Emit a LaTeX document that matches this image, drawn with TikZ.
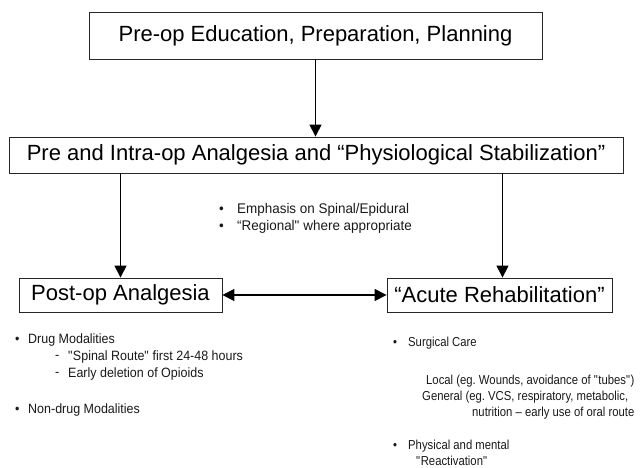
\documentclass[tikz,border=0pt]{standalone}
\usepackage{fontspec}
\setmainfont{Liberation Sans}
\newfontfamily\midfont{Liberation Sans}[FakeStretch=0.96]
\newfontfamily\leftfont{Liberation Sans}[FakeStretch=0.925]
\newfontfamily\rightfont{Liberation Sans}[FakeStretch=0.87]
\usetikzlibrary{arrows.meta}
\begin{document}
\frenchspacing
\begin{tikzpicture}[x=1pt,y=-1pt,
  bigbox/.style={draw=black!85,line width=0.9pt,inner sep=0pt,font=\fontsize{22}{26}\selectfont},
  conn/.style={line width=1.5pt,-{Triangle[width=12pt,length=12pt]}},
  small/.style={anchor=west,inner sep=0pt,text=black!90},
  midtxt/.style={small,font=\midfont\fontsize{14}{16}\selectfont},
  lefttxt/.style={small,font=\leftfont\fontsize{13.5}{16}\selectfont},
  righttxt/.style={small,font=\rightfont\fontsize{13}{15}\selectfont}]
\useasboundingbox (0,0) rectangle (640,468);
\node[bigbox,minimum width=453pt,minimum height=47pt] (top) at (315.5,35.5) {Pre-op Education, Preparation, Planning};
\node[bigbox,minimum width=614pt,minimum height=36pt] (mid) at (316,155) {Pre and Intra-op Analgesia and “Physiological Stabilization”};
\node[bigbox,minimum width=203pt,minimum height=34pt] (post) at (120.5,295) {Post-op Analgesia};
\node[bigbox,minimum width=225pt,minimum height=34pt] (acute) at (499.5,295) {“Acute Rehabilitation”};
\draw[conn] (top.south) -- (top.south |- mid.north);
\draw[conn] (post.north |- mid.south) -- (post.north);
\draw[conn] ([xshift=3pt]acute.north |- mid.south) -- ([xshift=3pt]acute.north);
\draw[conn,{Triangle[width=12pt,length=12pt]}-{Triangle[width=12pt,length=12pt]}] (post.east) -- (acute.west);
% middle bullets
\node[midtxt] (b1) at (219,210) {•};
\node[midtxt] (t1) at (237,210) {Emphasis on Spinal/Epidural};
\node[midtxt] (b2) at (219,227) {•};
\node[midtxt] (t2) at (237,227) {“Regional\textquotedbl{} where appropriate};
% left list
\node[lefttxt] (lb1) at (15,340) {•};
\node[lefttxt] (l1) at (28,340) {Drug Modalities};
\node[lefttxt] (ld1) at (55,357) {-};
\node[lefttxt] (l2) at (68,357) {\textquotedbl Spinal Route\textquotedbl{} first 24-48 hours};
\node[lefttxt] (ld2) at (55,374) {-};
\node[lefttxt] (l3) at (68,374) {Early deletion of Opioids};
\node[lefttxt] (lb2) at (15,410) {•};
\node[lefttxt] (l4) at (28,410) {Non-drug Modalities};
% right list
\node[righttxt] (rb1) at (393,343) {•};
\node[righttxt] (r1) at (408,343) {Surgical Care};
\node[righttxt] (r2) at (426,381) {Local (eg. Wounds, avoidance of \textquotedbl tubes\textquotedbl)};
\node[righttxt] (r3) at (422,397) {General (eg. VCS, respiratory, metabolic,};
\node[righttxt] (r4) at (472,413) {nutrition – early use of oral route};
\node[righttxt] (rb2) at (393,446) {•};
\node[righttxt] (r5) at (408,446) {Physical and mental};
\node[righttxt] (r6) at (416,461) {\textquotedbl Reactivation\textquotedbl};
\end{tikzpicture}
\end{document}
